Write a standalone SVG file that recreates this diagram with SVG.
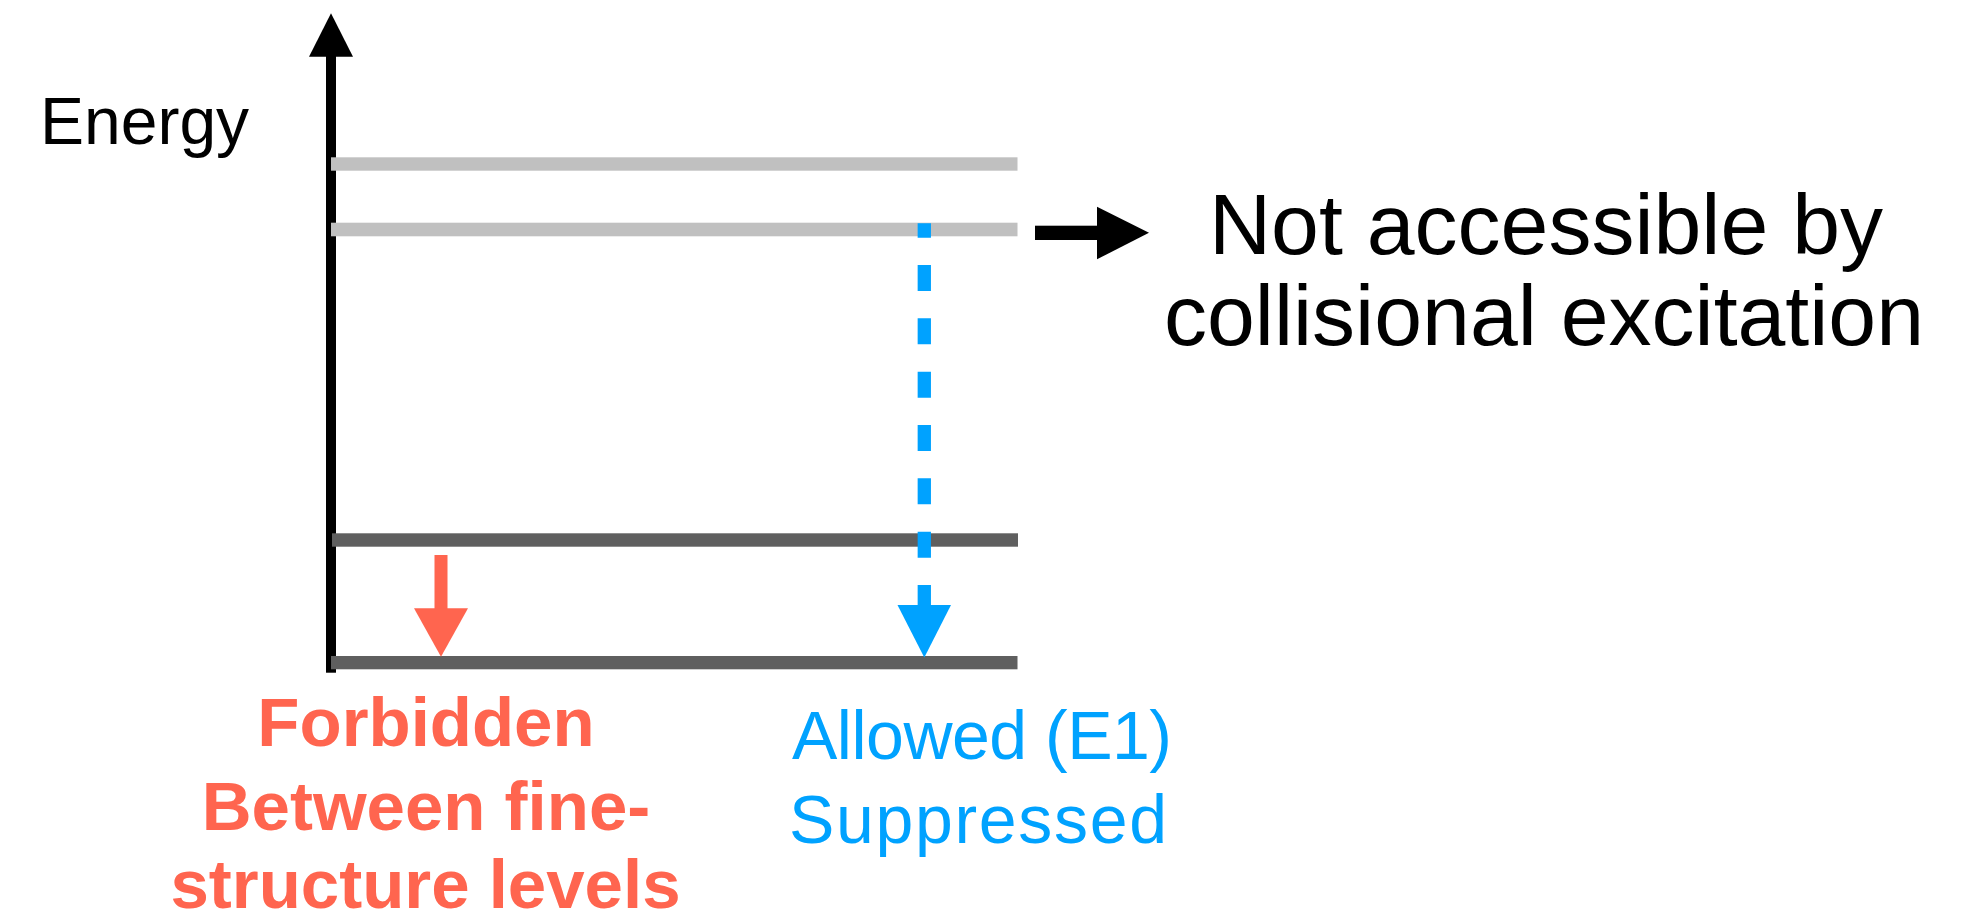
<svg xmlns="http://www.w3.org/2000/svg" width="1988" height="923" viewBox="0 0 1988 923">
  <style>
    .lbl { font-family: "Liberation Sans", Arial, Helvetica, sans-serif; }
    .upper { fill: #c0c0c0; }
    .lower { fill: #5f5f5f; }
    .forbid { fill: #ff654f; font-weight: bold; font-size: 69px; }
    .allow { fill: #00a2ff; font-size: 68px; }
    .note { fill: #000000; font-size: 86px; }
  </style>
  <rect width="1988" height="923" fill="#ffffff"/>

  <!-- energy axis -->
  <g id="axis">
    <rect x="326" y="56" width="10" height="616.7" fill="#000000"/>
    <polygon points="309,56.7 331,13.3 353,56.7" fill="#000000"/>
    <text class="lbl" x="40" y="144" font-size="66" fill="#000000">Energy</text>
  </g>

  <!-- energy levels -->
  <g id="level-upper-1"><rect class="upper" x="331" y="157.3" width="686.5" height="13.4"/></g>
  <g id="level-upper-2"><rect class="upper" x="331" y="222.7" width="686.5" height="13.6"/></g>
  <g id="level-fine-1"><rect class="lower" x="332" y="533.3" width="686" height="13.4"/></g>
  <g id="level-fine-0"><rect class="lower" x="331" y="656" width="686.5" height="13.3"/></g>

  <!-- transitions and pointer -->
  <g id="connectors">
    <!-- forbidden fine-structure transition -->
    <rect x="434.5" y="555" width="13" height="54" fill="#ff654f"/>
    <polygon points="414,608.3 468,608.3 441,656.7" fill="#ff654f"/>
    <!-- allowed E1 transition, dashed -->
    <line x1="924.3" y1="223.3" x2="924.3" y2="605" stroke="#00a2ff" stroke-width="13.3" stroke-dasharray="26 27.33" stroke-dashoffset="11.6"/>
    <polygon points="897.5,605 951,605 924.3,657.5" fill="#00a2ff"/>
    <!-- pointer to the note -->
    <rect x="1035" y="225.7" width="63" height="14.3" fill="#000000"/>
    <polygon points="1097,206.7 1149,232.8 1097,259.3" fill="#000000"/>
  </g>

  <g id="note-collisional">
    <text class="lbl note" x="1546" y="254" text-anchor="middle">Not accessible by</text>
    <text class="lbl note" x="1544" y="345" text-anchor="middle">collisional excitation</text>
  </g>

  <g id="label-forbidden">
    <text class="lbl forbid" x="426" y="745.7" text-anchor="middle">Forbidden</text>
    <text class="lbl forbid" x="426" y="830" text-anchor="middle">Between fine-</text>
    <text class="lbl forbid" x="425.5" y="908" text-anchor="middle">structure levels</text>
  </g>

  <g id="label-allowed">
    <text class="lbl allow" x="792" y="759" textLength="380">Allowed (E1)</text>
    <text class="lbl allow" x="789" y="843.3" textLength="378">Suppressed</text>
  </g>
</svg>
